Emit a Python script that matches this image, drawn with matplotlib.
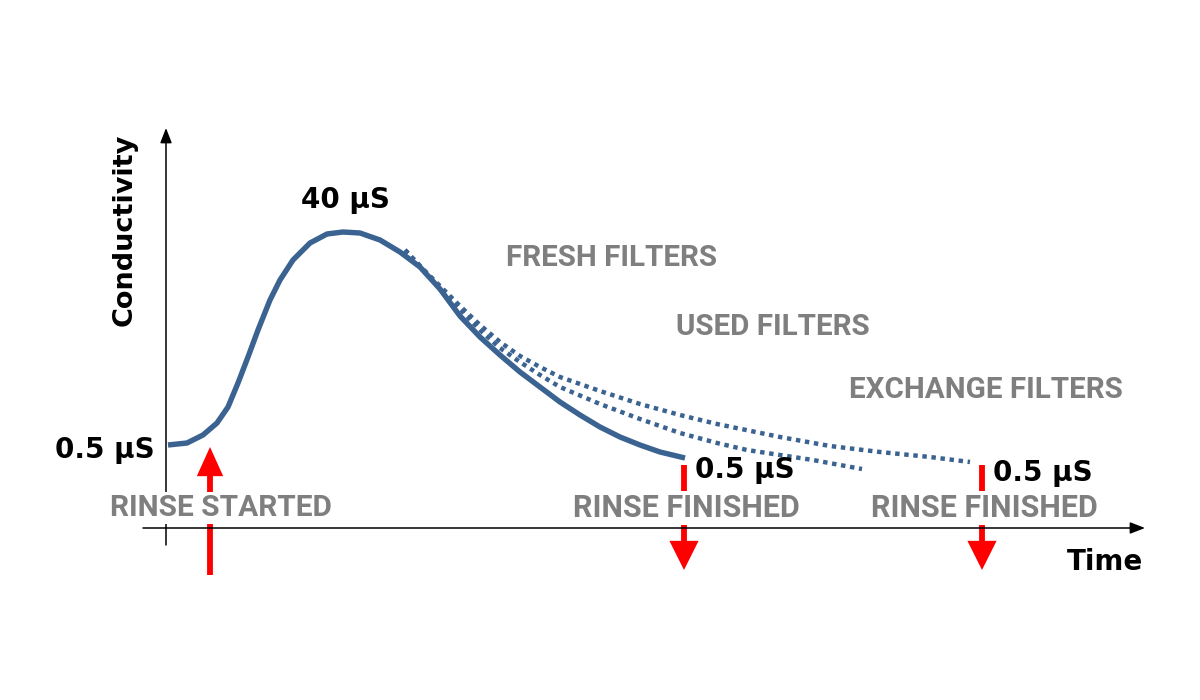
import matplotlib
matplotlib.use("Agg")
import matplotlib.pyplot as plt

# ---- data (arbitrary schematic units: time 0..10, conductivity 0..40) ----
time_fresh = [0.02, 0.21, 0.37, 0.51, 0.62, 0.72, 0.82, 0.92, 1.04, 1.14, 1.27, 1.44,
              1.61, 1.77, 1.94, 2.14, 2.34, 2.54, 2.74, 2.94, 3.14, 3.34, 3.54, 3.74,
              3.94, 4.14, 4.34, 4.54, 4.74, 4.94, 5.19]
cond_fresh = [8.3, 8.5, 9.3, 10.5, 12.1, 14.5, 17.1, 19.8, 22.8, 24.8, 26.8, 28.5,
              29.4, 29.6, 29.5, 28.8, 27.6, 26.1, 23.9, 21.2, 19.1, 17.3, 15.6, 14.1,
              12.6, 11.3, 10.1, 9.1, 8.3, 7.6, 7.0]

time_used = [2.39, 2.59, 2.74, 2.94, 3.14, 3.34, 3.54, 3.74, 3.94, 4.34, 4.74, 5.14,
             5.51, 5.81, 6.14, 6.47, 6.74, 6.96]
cond_used = [27.8, 25.6, 24.0, 21.9, 19.8, 18.0, 16.6, 15.3, 14.1, 12.4, 10.9, 9.5,
             8.5, 7.8, 7.3, 6.8, 6.3, 5.9]

time_exchange = [2.39, 2.59, 2.74, 2.94, 3.14, 3.34, 3.54, 3.74, 3.94, 4.34, 4.74, 5.14,
                 5.51, 6.14, 6.64, 7.14, 7.64, 8.04]
cond_exchange = [27.8, 25.7, 24.2, 22.2, 20.3, 18.6, 17.2, 16.1, 15.1, 13.7, 12.4, 11.3,
                 10.4, 9.1, 8.2, 7.6, 7.1, 6.6]

rinse_start_time = 0.44
rinse_end_times = [5.18, 8.16]

curve_labels = ["FRESH FILTERS", "USED FILTERS", "EXCHANGE FILTERS"]
start_label = "RINSE STARTED"
end_label = "RINSE FINISHED"
low_label = "0.5 µS"
peak_label = "40 µS"
x_label = "Time"
y_label = "Conductivity"

# ---- styles ----
BLUE = "#3b6391"
GRAY = "#7f7f7f"
RED = "#ff0000"
NARROW = ["Roboto", "DejaVu Sans"]

fig = plt.figure(figsize=(12, 7), dpi=100)
ax = fig.add_axes([166 / 1200, 172 / 700, 1000 / 1200, 400 / 700])
ax.set_xlim(0, 10)
ax.set_ylim(0, 40)
ax.axis("off")

# axes arrows (x axis drawn above the label boxes, y axis below them)
for xy, xytext, z in [((0, 40), (0, -1.7), 1), ((9.79, 0), (-0.23, 0), 6)]:
    ax.annotate("", xy=xy, xytext=xytext,
                arrowprops=dict(arrowstyle="-|>,head_length=0.9,head_width=0.35",
                                color="black", lw=1.1, shrinkA=0, shrinkB=0,
                                mutation_scale=10),
                annotation_clip=False, zorder=z)

# curves
ax.plot(time_exchange, cond_exchange, color=BLUE, lw=3.2,
        linestyle=(0, (1.0, 1.05)), dash_capstyle="butt", zorder=2, clip_on=False)
ax.plot(time_used, cond_used, color=BLUE, lw=3.2,
        linestyle=(0, (1.0, 1.05)), dash_capstyle="butt", zorder=2, clip_on=False)
ax.plot(time_fresh, cond_fresh, color=BLUE, lw=3.9, solid_capstyle="butt",
        solid_joinstyle="round", zorder=3, clip_on=False)

# red arrows
ax.annotate("", xy=(rinse_start_time, 8.1), xytext=(rinse_start_time, -4.7),
            arrowprops=dict(arrowstyle="simple,head_length=2.1,head_width=1.9,tail_width=0.42",
                            mutation_scale=10, color=RED, lw=0, shrinkA=0, shrinkB=0),
            annotation_clip=False, zorder=1)
for t in rinse_end_times:
    ax.annotate("", xy=(t, -4.2), xytext=(t, 6.3),
                arrowprops=dict(arrowstyle="simple,head_length=2.1,head_width=2.1,tail_width=0.42",
                                mutation_scale=10, color=RED, lw=0, shrinkA=0, shrinkB=0),
                annotation_clip=False, zorder=1)

# texts
bold_black = dict(color="black", fontweight="bold", family="DejaVu Sans", zorder=5)
ax.text(-0.41, 29.8, y_label, rotation=90, ha="center", va="center",
        fontsize=19.5, clip_on=False, **bold_black)
ax.text(-0.11, 7.8, low_label, ha="right", va="center", fontsize=20,
        clip_on=False, **bold_black)
ax.text(1.79, 32.8, peak_label, ha="center", va="center", fontsize=20, **bold_black)
ax.text(5.29, 5.8, low_label, ha="left", va="center", fontsize=20, **bold_black)
ax.text(8.27, 5.5, low_label, ha="left", va="center", fontsize=20, **bold_black)
ax.text(9.39, -3.4, x_label, ha="center", va="center", fontsize=20,
        clip_on=False, **bold_black)

gray_kw = dict(color=GRAY, fontweight="bold", family=NARROW, zorder=5)
for (x, y), lab in zip([(4.46, 27.0), (6.07, 20.1), (8.20, 13.8)], curve_labels):
    ax.text(x, y, lab, ha="center", va="center", fontsize=21.3, **gray_kw)

box = dict(facecolor="white", edgecolor="none", pad=1.5)
ax.text(0.55, 2.0, start_label, ha="center", va="center", bbox=box,
        fontsize=21.5, **gray_kw)
for t in rinse_end_times:
    ax.text(t + 0.02, 2.0, end_label, ha="center", va="center", bbox=box,
            fontsize=22, **gray_kw)

fig.savefig("out.png", dpi=100, facecolor="white")
